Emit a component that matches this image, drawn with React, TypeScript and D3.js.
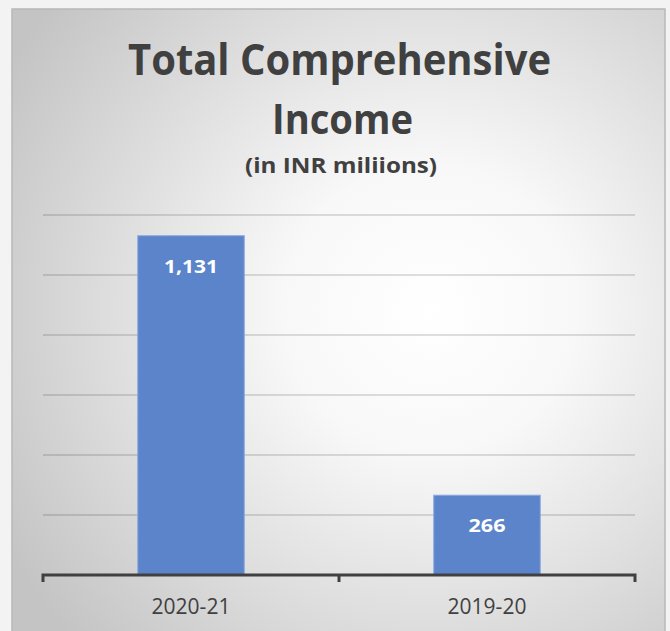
import React from "react";
import * as d3 from "d3";

const categories = ["2020-21", "2019-20"];
const values = [1131, 266];
const valueLabels = ["1,131", "266"];
const gridTicks = [0, 200, 400, 600, 800, 1000, 1200];
const titleLines = ["Total Comprehensive", "Income"];
const subtitle = "(in INR miliions)";

export default function App() {
  const W = 670, H = 631;
  const plot = { left: 43, right: 635, top: 215, bottom: 575 };
  const x = d3.scaleBand<string>().domain(categories).range([plot.left, plot.right]).paddingInner(0.64).paddingOuter(0.32);
  const y = d3.scaleLinear().domain([0, 1200]).range([plot.bottom, plot.top]);
  const font = "'Open Sans', 'Liberation Sans', sans-serif";
  const labelWidths = [54, 37];
  return (
    <svg width={W} height={H} style={{ position: "absolute", left: 0, top: 0 }} xmlns="http://www.w3.org/2000/svg">
      <defs>
        <radialGradient id="bg" cx="0.64" cy="0.47" r="0.75" gradientUnits="objectBoundingBox">
          <stop offset="0" stopColor="#ffffff" />
          <stop offset="0.3" stopColor="#f8f8f8" />
          <stop offset="1" stopColor="#c4c4c4" />
        </radialGradient>
      </defs>
      <rect x={0} y={0} width={W} height={H} fill="#f3f3f3" />
      <rect x={12} y={9} width={653} height={640} fill="url(#bg)" stroke="#b8b8b8" strokeWidth={1.5} />
      {gridTicks.slice(1).map((t) => (
        <line key={t} x1={plot.left} x2={plot.right} y1={y(t)} y2={y(t)} stroke="#000" strokeOpacity={0.17} strokeWidth={1.5} />
      ))}
      {categories.map((c, i) => (
        <g key={c}>
          <rect x={x(c)!} y={y(values[i])} width={x.bandwidth()} height={y(0) - y(values[i])} fill="#5b84cb" stroke="#8fabe0" strokeWidth={1} />
          <text x={x(c)! + x.bandwidth() / 2} y={y(values[i]) + 37} textAnchor="middle" fill="#ffffff" fontFamily={font} fontWeight={700} fontSize={18.5} textLength={labelWidths[i]} lengthAdjust="spacingAndGlyphs">{valueLabels[i]}</text>
          <text x={x(c)! + x.bandwidth() / 2} y={614} textAnchor="middle" fill="#404040" fontFamily={font} fontSize={21}>{c}</text>
        </g>
      ))}
      <path d={`M${plot.left},${plot.bottom + 7}V${plot.bottom}H${plot.right}V${plot.bottom + 7}M${(plot.left + plot.right) / 2},${plot.bottom}V${plot.bottom + 7}`} fill="none" stroke="#404040" strokeWidth={3} />
      <text x={339.5} y={75} textAnchor="middle" fill="#404040" fontFamily={font} fontWeight={700} fontSize={43} textLength={423} lengthAdjust="spacingAndGlyphs">{titleLines[0]}</text>
      <text x={342.5} y={134} textAnchor="middle" fill="#404040" fontFamily={font} fontWeight={700} fontSize={42} textLength={141} lengthAdjust="spacingAndGlyphs">{titleLines[1]}</text>
      <text x={341} y={173} textAnchor="middle" fill="#404040" fontFamily={font} fontWeight={700} fontSize={22} textLength={192} lengthAdjust="spacingAndGlyphs">{subtitle}</text>
    </svg>
  );
}
